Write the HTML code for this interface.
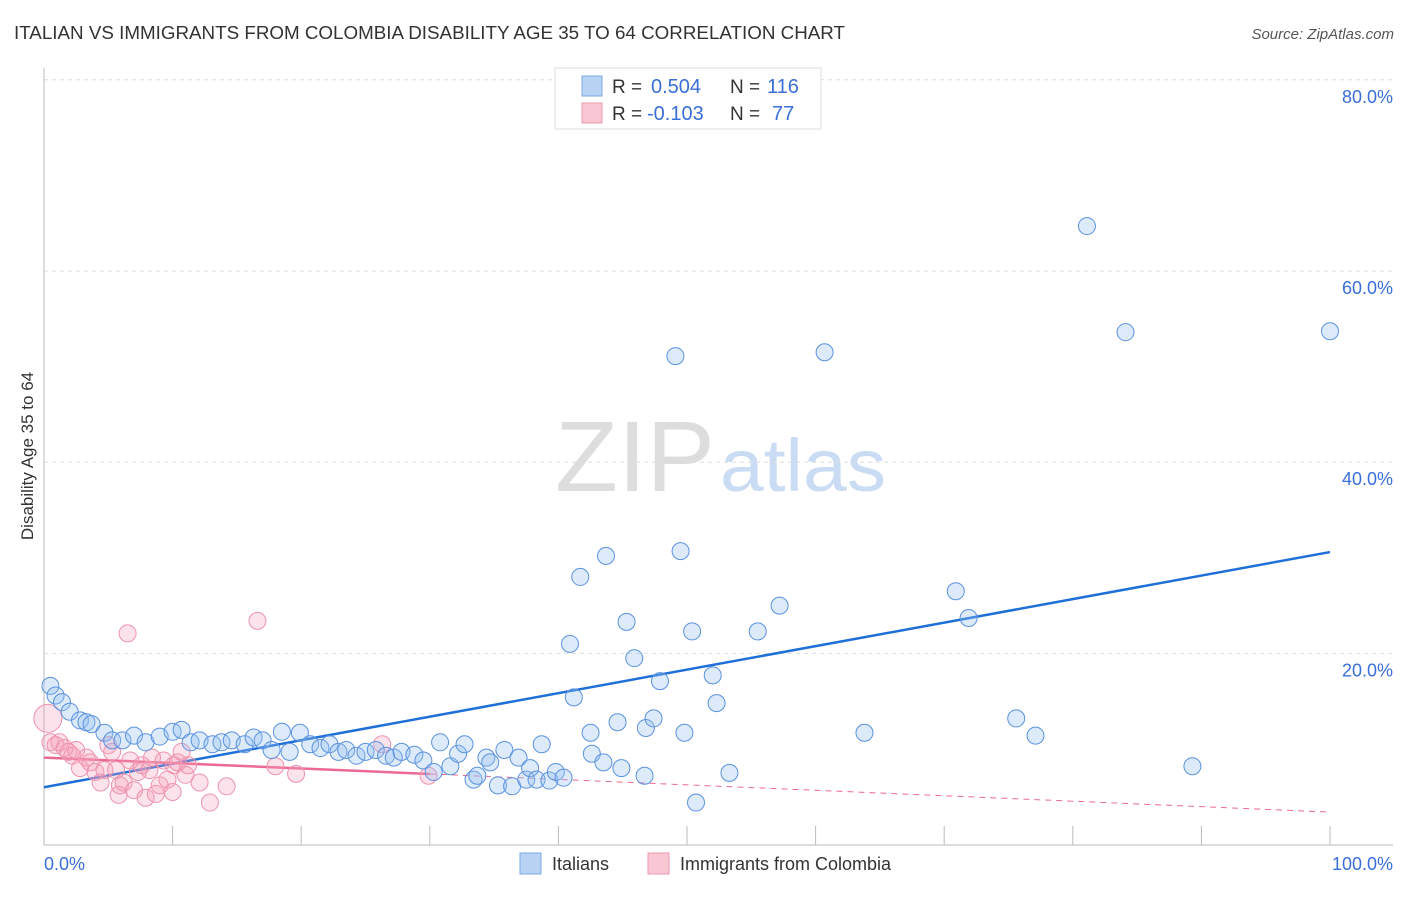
<!DOCTYPE html>
<html><head><meta charset="utf-8"><style>
body{margin:0;background:#fff;font-family:"Liberation Sans",sans-serif;}
svg text{font-family:"Liberation Sans",sans-serif;}
</style></head><body>
<svg width="1406" height="892" viewBox="0 0 1406 892" xmlns="http://www.w3.org/2000/svg">
<text x="14" y="39" font-size="18" fill="#333" textLength="831" lengthAdjust="spacingAndGlyphs">ITALIAN VS IMMIGRANTS FROM COLOMBIA DISABILITY AGE 35 TO 64 CORRELATION CHART</text>
<text x="1394" y="39" font-size="15" fill="#555" font-style="italic" text-anchor="end">Source: ZipAtlas.com</text>
<g>
<text x="555" y="491" font-size="100" fill="#ddd" font-family="Liberation Serif, serif" textLength="160" lengthAdjust="spacingAndGlyphs">ZIP</text>
<text x="720" y="491" font-size="74" fill="#c9dcf3" textLength="166" lengthAdjust="spacingAndGlyphs">atlas</text>
</g>
<g id="grid"></g>
<g id="axes"></g>
<g id="lines"></g>
<g id="pts"></g>
<text transform="translate(33,456) rotate(-90)" font-size="17" fill="#333" text-anchor="middle">Disability Age 35 to 64</text>
<g>
<rect x="555" y="68" width="266" height="61" fill="#fff" stroke="#ddd"/>
<rect x="582" y="76" width="20" height="20" fill="#b9d3f4" stroke="#7eaae8"/>
<rect x="582" y="103" width="20" height="20" fill="#f9c6d4" stroke="#ee9ab2"/>
<text x="612" y="93" font-size="19" fill="#333">R =</text>
<text x="651" y="93" font-size="20" fill="#3a6fd8">0.504</text>
<text x="730" y="93" font-size="19" fill="#333">N =</text>
<text x="767" y="93" font-size="20" fill="#3a6fd8">116</text>
<text x="612" y="120" font-size="19" fill="#333">R =</text>
<text x="647" y="120" font-size="20" fill="#3a6fd8">-0.103</text>
<text x="730" y="120" font-size="19" fill="#333">N =</text>
<text x="772" y="120" font-size="20" fill="#3a6fd8">77</text>
</g>
<g>
<rect x="520" y="853" width="21" height="21" fill="#b9d3f4" stroke="#7eaae8"/>
<text x="552" y="870" font-size="18" fill="#333">Italians</text>
<rect x="648" y="853" width="21" height="21" fill="#f9c6d4" stroke="#ee9ab2"/>
<text x="680" y="870" font-size="18" fill="#333">Immigrants from Colombia</text>
</g>
</svg>
<script>
const yTicks=[20,40,60,80];
const yTickLabels=["20.0%","40.0%","60.0%","80.0%"];
const xTicks=[0,10,20,30,40,50,60,70,80,90,100];
const blueX=[0.5,0.9,1.4,2.0,2.8,3.3,3.7,4.7,5.3,6.1,7.0,7.9,9.0,10.0,10.7,11.4,12.1,13.1,13.8,14.6,15.6,16.3,17.0,17.7,18.5,19.1,19.9,20.7,21.5,22.2,22.9,23.5,24.3,25.0,25.8,26.6,27.2,27.8,28.8,29.5,30.3,30.8,31.6,32.2,32.7,33.4,33.7,34.4,34.7,35.3,35.8,36.4,36.9,37.5,37.8,38.3,38.7,39.3,39.8,40.4,40.9,41.2,41.7,42.5,42.6,43.5,43.7,44.6,44.9,45.3,45.9,46.7,46.8,47.4,47.9,49.1,49.5,49.8,50.4,50.7,52.0,52.3,53.3,55.5,57.2,60.7,63.8,70.9,71.9,75.6,77.1,81.1,84.1,89.3,100];
const blueY=[16.6,15.6,14.9,13.9,13.0,12.8,12.6,11.7,10.9,10.9,11.4,10.7,11.3,11.8,12.0,10.7,10.9,10.5,10.7,10.9,10.5,11.2,10.9,9.9,11.8,9.7,11.7,10.5,10.1,10.5,9.7,9.9,9.3,9.7,9.9,9.3,9.1,9.7,9.4,8.8,7.6,10.7,8.2,9.5,10.5,6.8,7.2,9.1,8.6,6.2,9.9,6.1,9.1,6.8,8.0,6.8,10.5,6.7,7.6,7.0,21.0,15.4,28.0,11.7,9.5,8.6,30.2,12.8,8.0,23.3,19.5,7.2,12.2,13.2,17.1,51.1,30.7,11.7,22.3,4.4,17.7,14.8,7.5,22.3,25.0,51.5,11.7,26.5,23.7,13.2,11.4,64.7,53.6,8.2,53.7];
const pinkX=[0.3,0.5,0.9,1.2,1.6,1.9,2.2,2.5,2.8,3.3,3.6,4.0,4.4,4.7,5.0,5.3,5.6,5.8,5.9,6.2,6.5,6.7,7.0,7.3,7.6,7.9,8.2,8.4,8.7,9.0,9.3,9.6,10.0,10.1,10.4,10.7,11.0,11.2,12.1,12.9,14.2,16.6,18.0,19.6,26.3,29.9];
const pinkY=[13.2,10.7,10.4,10.7,10.1,9.7,9.3,9.9,8.0,9.1,8.6,7.6,6.5,7.8,10.4,9.7,7.8,5.2,6.2,6.5,22.1,8.8,5.7,7.6,8.3,4.9,7.8,9.1,5.3,6.2,8.8,6.8,5.5,8.3,8.6,9.7,7.3,8.3,6.5,4.4,6.1,23.4,8.2,7.4,10.5,7.2];
const blueTrend=[6.0,30.6];
const pinkTrend=[9.1,3.4];
const pinkSolidEnd=30;
const NS="http://www.w3.org/2000/svg";
const X=v=>44+v*12.86, Y=v=>844.6-v*9.56;
function mk(tag,a,p){const e=document.createElementNS(NS,tag);for(const k in a)e.setAttribute(k,a[k]);p.appendChild(e);return e;}
const grid=document.getElementById('grid'),axes=document.getElementById('axes'),lines=document.getElementById('lines'),pts=document.getElementById('pts');
yTicks.forEach((t,i)=>{
 const l=mk('line',{x1:44,x2:1393,y1:Y(t),y2:Y(t),stroke:'#ddd','stroke-dasharray':'4,4'},grid);
 
 
 const tx=mk('text',{x:1393,y:Y(t)+23,'font-size':18,fill:'#3a6fd8','text-anchor':'end'},axes);
 tx.textContent=yTickLabels[i];
 
 
});
const ax=mk('line',{x1:44,x2:44,y1:68,y2:845,stroke:'#bbb'},axes);


const bx=mk('line',{x1:44,x2:1393,y1:845,y2:845,stroke:'#bbb'},axes);


xTicks.forEach(t=>{const l=mk('line',{x1:X(t),x2:X(t),y1:826,y2:845,stroke:'#bbb'},axes);
 
 });
const x0=mk('text',{x:44,y:870,'font-size':18,fill:'#3a6fd8'},axes);x0.textContent='0.0%';


const x1=mk('text',{x:1393,y:870,'font-size':18,fill:'#3a6fd8','text-anchor':'end'},axes);x1.textContent='100.0%';


pinkX.forEach((v,i)=>{const c=mk('circle',{cx:X(v),cy:Y(pinkY[i]),r:i==0?14:8.5,fill:'rgba(244,160,185,0.3)',stroke:'#ee93ad','stroke-width':1},pts);
 
 });
blueX.forEach((v,i)=>{const c=mk('circle',{cx:X(v),cy:Y(blueY[i]),r:8.5,fill:'rgba(150,190,240,0.33)',stroke:'#5b92e0','stroke-width':1},pts);
 
 });
const bl=mk('line',{x1:X(0),y1:Y(blueTrend[0]),x2:X(100),y2:Y(blueTrend[1]),stroke:'#1f6fd9','stroke-width':2.5},lines);


const pm=v=>pinkTrend[0]+(pinkTrend[1]-pinkTrend[0])*v/100;
const ps=mk('line',{x1:X(0),y1:Y(pm(0)),x2:X(pinkSolidEnd),y2:Y(pm(pinkSolidEnd)),stroke:'#ec6a92','stroke-width':2.5},lines);


const pd=mk('line',{x1:X(pinkSolidEnd),y1:Y(pm(pinkSolidEnd)),x2:X(100),y2:Y(pm(100)),stroke:'#ec6a92','stroke-width':1,'stroke-dasharray':'6,5'},lines);


</script>
</body></html>
